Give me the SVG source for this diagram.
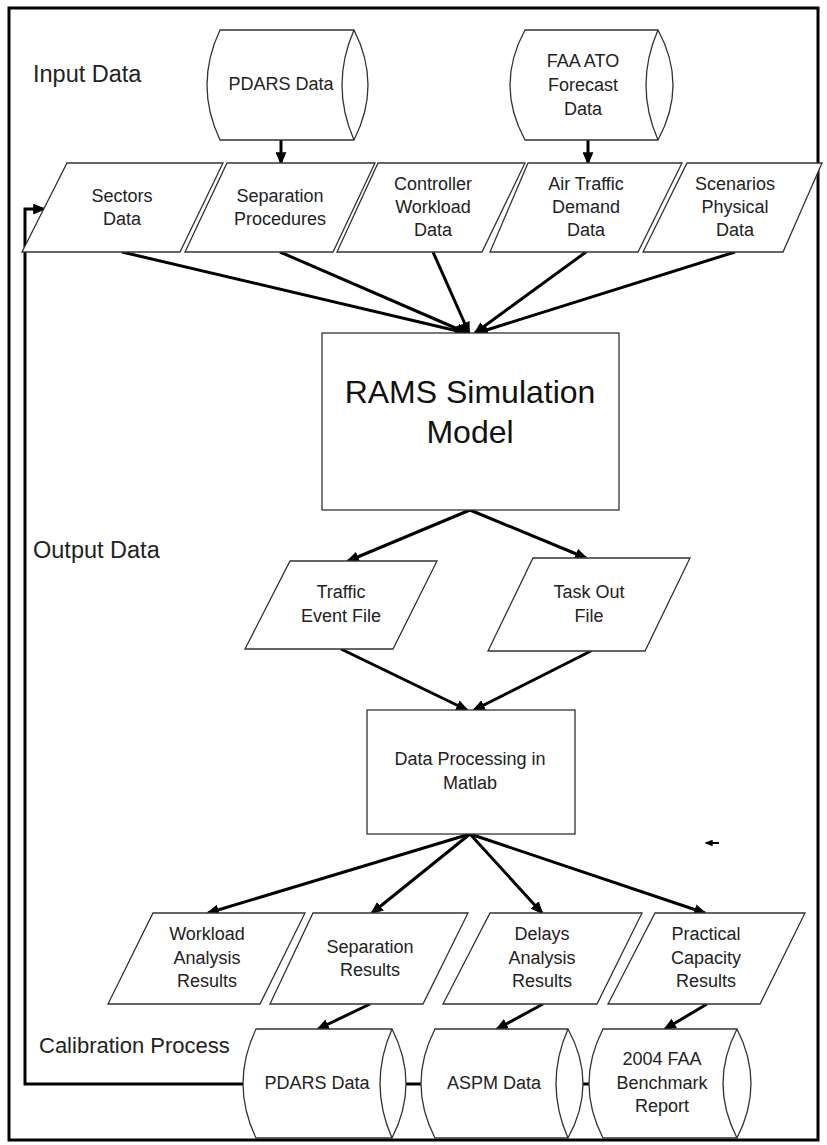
<svg xmlns="http://www.w3.org/2000/svg" width="827" height="1145" viewBox="0 0 827 1145">
<style>
.shape{fill:#fff;stroke:#333;stroke-width:1.3}
.t{font-family:"Liberation Sans",Arial,sans-serif;font-size:18px;fill:#222;text-anchor:middle}
.lbl{font-family:"Liberation Sans",Arial,sans-serif;font-size:23.5px;fill:#222}
.big{font-family:"Liberation Sans",Arial,sans-serif;font-size:32px;fill:#111;text-anchor:middle}
.c{fill:none;stroke:#000;stroke-width:3;marker-end:url(#ah)}
.c2{fill:none;stroke:#000;stroke-width:3}
</style>
<defs>
<marker id="ah" viewBox="0 0 12 10" refX="10" refY="5" markerWidth="13" markerHeight="11" markerUnits="userSpaceOnUse" orient="auto"><path d="M0,0 L12,5 L0,10 z" fill="#000"/></marker>
<marker id="ahs" viewBox="0 0 12 10" refX="10" refY="5" markerWidth="8" markerHeight="7" markerUnits="userSpaceOnUse" orient="auto"><path d="M0,0 L12,5 L0,10 z" fill="#000"/></marker>
</defs>
<rect x="0" y="0" width="827" height="1145" fill="#fff"/>
<rect x="9" y="8" width="809" height="1132" fill="none" stroke="#000" stroke-width="3"/>

<text class="lbl" x="33" y="82">Input Data</text>
<text class="lbl" x="33" y="558">Output Data</text>
<text class="lbl" x="39" y="1053" style="font-size:22px">Calibration Process</text>

<g id="connectors">
<line class="c" x1="281" y1="140" x2="281" y2="163"/>
<line class="c" x1="588" y1="140" x2="588" y2="163"/>
<line class="c" x1="122" y1="252" x2="466" y2="333"/>
<line class="c" x1="280" y1="252" x2="467" y2="333"/>
<line class="c" x1="433" y1="252" x2="469" y2="333"/>
<line class="c" x1="586" y1="252" x2="475" y2="333"/>
<line class="c" x1="735" y1="252" x2="477" y2="333"/>
<line class="c" x1="470" y1="510" x2="348" y2="561"/>
<line class="c" x1="470" y1="510" x2="586" y2="558"/>
<line class="c" x1="341" y1="649" x2="467" y2="710"/>
<line class="c" x1="591" y1="651" x2="474" y2="710"/>
<line class="c" x1="470" y1="834" x2="208" y2="913"/>
<line class="c" x1="470" y1="834" x2="372" y2="913"/>
<line class="c" x1="470" y1="834" x2="542" y2="913"/>
<line class="c" x1="470" y1="834" x2="705" y2="913"/>
<line class="c" x1="370" y1="1004" x2="318" y2="1029"/>
<line class="c" x1="543" y1="1004" x2="497" y2="1029"/>
<line class="c" x1="707" y1="1004" x2="665" y2="1029"/>
<line class="c2" x1="392" y1="1084" x2="421" y2="1084"/>
<line class="c2" x1="568" y1="1084" x2="590" y2="1084"/>
<polyline class="c" points="243,1084 25,1084 25,209 44,209"/>
<line x1="719" y1="843" x2="706" y2="843" stroke="#000" stroke-width="2" marker-end="url(#ahs)"/>
</g>

<g id="pdars-top">
<path class="shape" d="M220,30 L354,30 Q382,85 354,140 L220,140 Q194,85 220,30 Z"/>
<path class="shape" d="M354,30 Q330,85 354,140" fill="none"/>
<text class="t" x="281" y="90">PDARS Data</text>
</g>
<g id="faa-ato">
<path class="shape" d="M525,30 L658,30 Q688,85 658,140 L525,140 Q495,85 525,30 Z"/>
<path class="shape" d="M658,30 Q634,85 658,140" fill="none"/>
<text class="t" x="583" y="67">FAA ATO</text>
<text class="t" x="583" y="91">Forecast</text>
<text class="t" x="583" y="115">Data</text>
</g>

<g id="sectors">
<polygon class="shape" points="67,163 223,163 180,252 22,252"/>
<text class="t" x="122" y="202">Sectors</text>
<text class="t" x="122" y="225">Data</text>
</g>
<g id="separation-procedures">
<polygon class="shape" points="227,163 375,163 333,252 185,252"/>
<text class="t" x="280" y="202">Separation</text>
<text class="t" x="280" y="225">Procedures</text>
</g>
<g id="controller-workload">
<polygon class="shape" points="378,163 525,163 482,252 337,252"/>
<text class="t" x="433" y="190">Controller</text>
<text class="t" x="433" y="213">Workload</text>
<text class="t" x="433" y="236">Data</text>
</g>
<g id="air-traffic">
<polygon class="shape" points="528,163 682,163 638,252 490,252"/>
<text class="t" x="586" y="190">Air Traffic</text>
<text class="t" x="586" y="213">Demand</text>
<text class="t" x="586" y="236">Data</text>
</g>
<g id="scenarios">
<polygon class="shape" points="687,163 822,163 783,252 643,252"/>
<text class="t" x="735" y="190">Scenarios</text>
<text class="t" x="735" y="213">Physical</text>
<text class="t" x="735" y="236">Data</text>
</g>

<g id="rams">
<rect class="shape" x="322" y="333" width="297" height="177"/>
<text class="big" x="470" y="403">RAMS Simulation</text>
<text class="big" x="470" y="443">Model</text>
</g>

<g id="traffic-event">
<polygon class="shape" points="290,561 437,561 393,649 245,649"/>
<text class="t" x="341" y="598">Traffic</text>
<text class="t" x="341" y="622">Event File</text>
</g>
<g id="task-out">
<polygon class="shape" points="533,558 690,558 645,651 488,651"/>
<text class="t" x="589" y="598">Task Out</text>
<text class="t" x="589" y="622">File</text>
</g>

<g id="data-processing">
<rect class="shape" x="367" y="710" width="208" height="124"/>
<text class="t" x="470" y="765">Data Processing in</text>
<text class="t" x="470" y="789">Matlab</text>
</g>

<g id="workload-results">
<polygon class="shape" points="153,913 305,913 260,1004 108,1004"/>
<text class="t" x="207" y="940">Workload</text>
<text class="t" x="207" y="964">Analysis</text>
<text class="t" x="207" y="987">Results</text>
</g>
<g id="separation-results">
<polygon class="shape" points="313,913 468,913 423,1004 270,1004"/>
<text class="t" x="370" y="953">Separation</text>
<text class="t" x="370" y="976">Results</text>
</g>
<g id="delays-results">
<polygon class="shape" points="490,913 642,913 597,1004 443,1004"/>
<text class="t" x="542" y="940">Delays</text>
<text class="t" x="542" y="964">Analysis</text>
<text class="t" x="542" y="987">Results</text>
</g>
<g id="capacity-results">
<polygon class="shape" points="655,913 805,913 760,1004 608,1004"/>
<text class="t" x="706" y="940">Practical</text>
<text class="t" x="706" y="964">Capacity</text>
<text class="t" x="706" y="987">Results</text>
</g>

<g id="pdars-bottom">
<path class="shape" d="M256,1029 L392,1029 Q420,1083.5 392,1138 L256,1138 Q230,1083.5 256,1029 Z"/>
<path class="shape" d="M392,1029 Q368,1083.5 392,1138" fill="none"/>
<text class="t" x="317" y="1089">PDARS Data</text>
</g>
<g id="aspm">
<path class="shape" d="M435,1029 L568,1029 Q598,1083.5 568,1138 L435,1138 Q407,1083.5 435,1029 Z"/>
<path class="shape" d="M568,1029 Q544,1083.5 568,1138" fill="none"/>
<text class="t" x="494" y="1089">ASPM Data</text>
</g>
<g id="faa-benchmark">
<path class="shape" d="M603,1029 L737,1029 Q765,1083.5 737,1138 L603,1138 Q575,1083.5 603,1029 Z"/>
<path class="shape" d="M737,1029 Q709,1083.5 737,1138" fill="none"/>
<text class="t" x="662" y="1065">2004 FAA</text>
<text class="t" x="662" y="1089">Benchmark</text>
<text class="t" x="662" y="1112">Report</text>
</g>
</svg>
